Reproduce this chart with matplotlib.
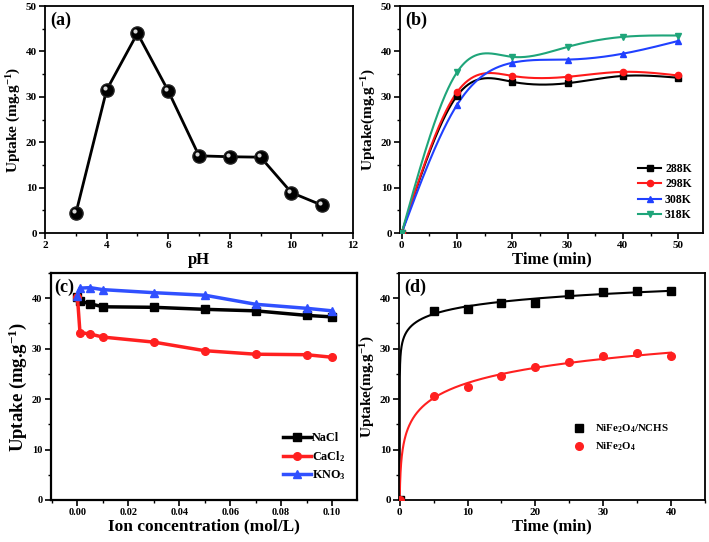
import numpy as np
import matplotlib
matplotlib.use("Agg")
import matplotlib.pyplot as plt
from matplotlib.ticker import MultipleLocator, FormatStrFormatter
from matplotlib.transforms import ScaledTranslation

plt.rcParams['font.family'] = ['Liberation Serif', 'DejaVu Serif']
plt.rcParams['font.weight'] = 'bold'
plt.rcParams['mathtext.fontset'] = 'custom'
plt.rcParams['mathtext.rm'] = 'Liberation Serif:bold'
plt.rcParams['mathtext.bf'] = 'Liberation Serif:bold'
plt.rcParams['mathtext.it'] = 'Liberation Serif:bold'
plt.rcParams['mathtext.default'] = 'bf'

# ---------------- data ----------------
ph = [3, 4, 5, 6, 7, 8, 9, 10, 11]
uptake_ph = [4.3, 31.5, 44.0, 31.3, 17.0, 16.8, 16.7, 8.9, 6.1]

time_b = [0, 10, 20, 30, 40, 50]
temp_labels = ['288K', '298K', '308K', '318K']
up_288 = [0, 30.2, 33.3, 33.0, 34.6, 34.2]
up_298 = [0, 31.0, 34.6, 34.4, 35.5, 34.7]
up_308 = [0, 28.2, 37.5, 38.2, 39.5, 42.3]
up_318 = [0, 35.4, 38.8, 41.0, 43.2, 43.5]

conc = [0, 0.001, 0.005, 0.01, 0.03, 0.05, 0.07, 0.09, 0.10]
salt_labels = ['NaCl', 'CaCl$_2$', 'KNO$_3$']
up_nacl = [40.3, 39.4, 38.9, 38.3, 38.2, 37.8, 37.5, 36.6, 36.3]
up_cacl2 = [40.3, 33.2, 32.9, 32.3, 31.3, 29.6, 28.9, 28.8, 28.3]
up_kno3 = [40.5, 42.0, 42.1, 41.7, 41.1, 40.6, 38.8, 38.0, 37.5]

time_d = [0, 5, 10, 15, 20, 25, 30, 35, 40]
mat_labels = ['NiFe$_2$O$_4$/NCHS', 'NiFe$_2$O$_4$']
up_comp = [0, 37.4, 37.9, 39.1, 39.1, 40.9, 41.2, 41.4, 41.4]
up_ferr = [0, 20.7, 22.4, 24.5, 26.4, 27.3, 28.5, 29.1, 28.6]

# ---------------- helpers ----------------
def natural_spline(x, y, n=400):
    x = np.asarray(x, float); y = np.asarray(y, float)
    k = len(x); h = np.diff(x)
    A = np.zeros((k, k)); r = np.zeros(k)
    A[0, 0] = A[-1, -1] = 1
    for i in range(1, k - 1):
        A[i, i - 1] = h[i - 1]; A[i, i] = 2 * (h[i - 1] + h[i]); A[i, i + 1] = h[i]
        r[i] = 3 * ((y[i + 1] - y[i]) / h[i] - (y[i] - y[i - 1]) / h[i - 1])
    c = np.linalg.solve(A, r)
    xs = np.linspace(x[0], x[-1], n); ys = np.empty_like(xs)
    for j, xv in enumerate(xs):
        i = min(np.searchsorted(x, xv, side='right') - 1, k - 2)
        b = (y[i + 1] - y[i]) / h[i] - h[i] * (2 * c[i] + c[i + 1]) / 3
        d = (c[i + 1] - c[i]) / (3 * h[i])
        t = xv - x[i]
        ys[j] = y[i] + b * t + c[i] * t ** 2 + d * t ** 3
    return xs, ys

def elovich_curve(t, q, tmax):
    t = np.asarray(t, float); q = np.asarray(q, float)
    m = t > 0
    b, a = np.polyfit(np.log(t[m]), q[m], 1)
    ts = np.concatenate([np.linspace(0, 1, 400), np.linspace(1, tmax, 400)])
    return ts, b * np.log(1 + np.exp(a / b) * ts)

def style(ax, xmaj, xmin, ymaj, ymin, lw=1.3, fs=8):
    for s in ax.spines.values():
        s.set_linewidth(lw)
    ax.xaxis.set_major_locator(MultipleLocator(xmaj))
    ax.xaxis.set_minor_locator(MultipleLocator(xmin))
    ax.yaxis.set_major_locator(MultipleLocator(ymaj))
    ax.yaxis.set_minor_locator(MultipleLocator(ymin))
    ax.tick_params(which='major', direction='out', length=4, width=1.2,
                   labelsize=fs, top=False, right=False, pad=2)
    ax.tick_params(which='minor', direction='out', length=2.5, width=1.0,
                   top=False, right=False)

fig = plt.figure(figsize=(7.09, 5.42), dpi=100)

# ---------------- (a) ----------------
axa = fig.add_axes([0.0635, 0.5701, 0.4344, 0.4188])
axa.plot(ph, uptake_ph, '-', color='black', lw=2.0, zorder=2)
axa.plot(ph, uptake_ph, 'o', color='black', ms=9.5, mec='#222222', zorder=3)
hl = axa.transData + ScaledTranslation(-2.0 / 100, 2.0 / 100, fig.dpi_scale_trans)
axa.plot(ph, uptake_ph, 'o', color='#d8d8d8', ms=3.0, mec='none', transform=hl, zorder=4)
axa.set_xlim(2, 12); axa.set_ylim(0, 50)
style(axa, 2, 1, 10, 5)
axa.set_xlabel('pH', fontsize=12, fontweight='bold', labelpad=1)
axa.set_ylabel('Uptake (mg.g$^{-1}$)', fontsize=11, fontweight='bold', labelpad=2)
axa.text(0.018, 0.975, '(a)', transform=axa.transAxes, fontsize=13,
         fontweight='bold', va='top', ha='left')

# ---------------- (b) ----------------
axb = fig.add_axes([0.5642, 0.5701, 0.4274, 0.4188])
series_b = [up_288, up_298, up_308, up_318]
colors_b = ['black', '#ff1a1a', '#2040ff', '#1fa57a']
markers_b = ['s', 'o', '^', 'v']
for ys, c, mk, lab in zip(series_b, colors_b, markers_b, temp_labels):
    xs_s, ys_s = natural_spline(time_b, ys)
    axb.plot(xs_s, ys_s, '-', color=c, lw=1.5, zorder=2)
    axb.plot(time_b, ys, mk, color=c, ms=4.5, zorder=3)
    axb.plot([], [], '-', marker=mk, color=c, lw=1.5, ms=4.5, label=lab)
axb.set_xlim(-0.3, 54.5); axb.set_ylim(0, 50)
style(axb, 10, 5, 10, 5)
axb.set_xlabel('Time (min)', fontsize=12, fontweight='bold', labelpad=1)
axb.set_ylabel('Uptake(mg.g$^{-1}$)', fontsize=11, fontweight='bold', labelpad=2)
axb.text(0.018, 0.975, '(b)', transform=axb.transAxes, fontsize=13,
         fontweight='bold', va='top', ha='left')
axb.legend(loc='lower right', bbox_to_anchor=(0.99, 0.015), frameon=False,
           prop={'family': 'Liberation Serif', 'weight': 'bold', 'size': 8.5},
           handlelength=2.0, handletextpad=0.3, labelspacing=0.3, borderpad=0.2)

# ---------------- (c) ----------------
axc = fig.add_axes([0.0715, 0.0775, 0.432, 0.4188])
series_c = [up_nacl, up_cacl2, up_kno3]
colors_c = ['black', '#ff2020', '#3050ff']
markers_c = ['s', 'o', '^']
for ys, c, mk, lab in zip(series_c, colors_c, markers_c, salt_labels):
    axc.plot(conc, ys, '-', marker=mk, color=c, lw=2.5, ms=5.5, label=lab)
axc.set_xlim(-0.0105, 0.1098); axc.set_ylim(0, 45)
style(axc, 0.02, 0.01, 10, 5, lw=1.6, fs=7.5)
axc.xaxis.set_major_formatter(FormatStrFormatter('%.2f'))
axc.set_xlabel('Ion concentration (mol/L)', fontsize=12.5, fontweight='bold', labelpad=1)
axc.set_ylabel('Uptake (mg.g$^{-1}$)', fontsize=13.5, fontweight='bold', labelpad=2)
axc.text(0.012, 0.975, '(c)', transform=axc.transAxes, fontsize=13,
         fontweight='bold', va='top', ha='left')
axc.legend(loc='lower right', bbox_to_anchor=(0.99, 0.04), frameon=False,
           prop={'family': 'Liberation Serif', 'weight': 'bold', 'size': 8.7},
           handlelength=2.3, handletextpad=0.1, labelspacing=0.4, borderpad=0.2)

# ---------------- (d) ----------------
axd = fig.add_axes([0.5628, 0.0775, 0.4316, 0.4188])
series_d = [up_comp, up_ferr]
colors_d = ['black', '#ff2020']
markers_d = ['s', 'o']
for ys, c, mk, lab in zip(series_d, colors_d, markers_d, mat_labels):
    ts, qs = elovich_curve(time_d, ys, time_d[-1])
    axd.plot(ts, qs, '-', color=c, lw=1.5, zorder=2)
    axd.plot(time_d, ys, mk, color=c, ms=5.5, zorder=3, label=lab)
axd.set_xlim(-0.1, 45); axd.set_ylim(0, 45)
style(axd, 10, 5, 10, 5)
axd.set_xlabel('Time (min)', fontsize=12, fontweight='bold', labelpad=1)
axd.set_ylabel('Uptake(mg.g$^{-1}$)', fontsize=11, fontweight='bold', labelpad=2)
axd.text(0.018, 0.975, '(d)', transform=axd.transAxes, fontsize=13,
         fontweight='bold', va='top', ha='left')
axd.legend(loc='upper left', bbox_to_anchor=(0.545, 0.375), frameon=False,
           prop={'family': 'Liberation Serif', 'weight': 'bold', 'size': 7.8},
           handlelength=1.0, handletextpad=1.0, labelspacing=0.5, borderpad=0.2)

fig.canvas.draw()
for ax in (axa, axb, axc, axd):
    for lab in ax.get_xticklabels() + ax.get_yticklabels():
        lab.set_fontweight('bold')

fig.savefig('out.png', dpi=100)
